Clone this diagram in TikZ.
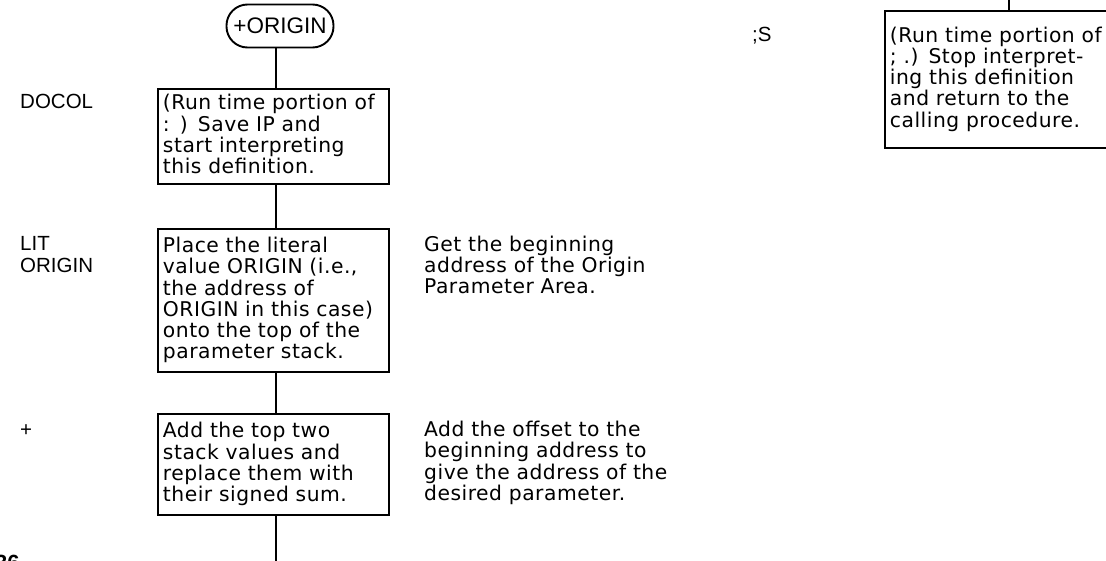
\documentclass[tikz,border=0pt]{standalone}
\usepackage{fontspec}
\newfontfamily\boxfam[LetterSpace=2.5]{DejaVu Sans}
\newfontfamily\labfam{Liberation Sans}
\newcommand\bxf{\boxfam\fontsize{20.3}{21.3}\selectfont}
\newcommand\lbf{\labfam\fontsize{20.5}{21.5}\selectfont}
\newcommand\tstr{\rule{0pt}{15pt}}
\newcommand\bstr{\rule[-5pt]{0pt}{5pt}}
\begin{document}
\begin{tikzpicture}[x=1pt,y=-1pt,
  procbox/.style={draw, line width=1.9pt, anchor=north west, text width=221pt,
    inner xsep=5pt, inner ysep=0pt, align=left, font=\bxf},
  termbox/.style={draw, line width=1.9pt, rounded corners=21pt, minimum width=107pt,
    minimum height=43pt, inner sep=0pt, font=\labfam\fontsize{22.5}{24}\selectfont},
  lbl/.style={anchor=base west, inner sep=0pt, font=\lbf},
  note/.style={anchor=north west, inner sep=0pt, align=left, font=\bxf, text width=320pt},
  conn/.style={line width=2.2pt}]
\useasboundingbox (0,0) rectangle (1106,560);
\clip (0,0) rectangle (1106,560);

% left column
\node[termbox] (term) at (280,26) {+ORIGIN};
\node[procbox, minimum height=95pt] (b1) at (157,88)
  {\tstr(Run time portion of\\ : ) Save IP and\\ start interpreting\\ this definition.\bstr};
\node[procbox, minimum height=143pt] (b2) at (157,228)
  {\tstr Place the literal\\ value ORIGIN (i.e.,\\ the address of\\ ORIGIN in this case)\\ onto the top of the\\ parameter stack.\bstr};
\node[procbox, minimum height=101pt] (b3) at (157,413)
  {\tstr Add the top two\\ stack values and\\ replace them with\\ their signed sum.\bstr};
\coordinate (bot) at (276,570);

\draw[conn] (term.south -| bot) -- (b1.north -| bot);
\draw[conn] (b1.south -| bot) -- (b2.north -| bot);
\draw[conn] (b2.south -| bot) -- (b3.north -| bot);
\draw[conn] (b3.south -| bot) -- (bot);

% labels
\node[lbl] (ldocol) at (20,108) {DOCOL};
\node[lbl] (llit) at (20,250.5) {LIT};
\node[lbl] (lorig) at (20,272) {ORIGIN};
\node[lbl] (lplus) at (20,436) {+};

% notes
\node[note] (n1) at (424,235.5) {\tstr Get the beginning\\ address of the Origin\\ Parameter Area.};
\node[note] (n2) at (424,421) {\tstr Add the offset to the\\ beginning address to\\ give the address of the\\ desired parameter.};

% right column
\node[lbl] (lsemi) at (752,41) {;S};
\node[procbox, minimum height=137pt] (rb) at (884,10)
  {\tstr(Run time portion of\\ ; .) Stop interpret-\\ ing this definition\\ and return to the\\ calling procedure.\bstr};
\coordinate (rtop) at (1009,-5);
\draw[conn] (rtop) -- (rb.north -| rtop);

% page number fragment
\node[anchor=base west, inner sep=0pt, font=\labfam\bfseries\fontsize{22}{24}\selectfont] (pg) at (-5,570) {36};
\end{tikzpicture}
\end{document}
